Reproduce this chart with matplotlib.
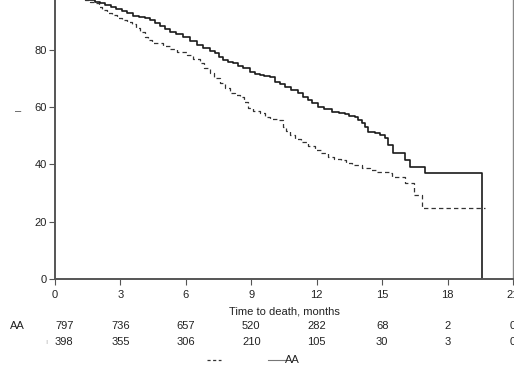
import matplotlib
matplotlib.use("Agg")
import matplotlib.pyplot as plt
from matplotlib.transforms import blended_transform_factory
from matplotlib.lines import Line2D

plt.rcParams['font.family'] = ['Liberation Sans', 'DejaVu Sans']

# Kaplan-Meier style curves (months, survival %)
t_aa = [0, 0.4, 0.8, 1.2, 1.5, 1.83, 2.05, 2.29, 2.55, 2.8, 3.07, 3.3, 3.57, 3.85, 4.12,
        4.35, 4.58, 4.8, 5.05, 5.27, 5.55, 5.87, 6.2, 6.49, 6.8, 7.1, 7.33, 7.5, 7.7, 7.95,
        8.17, 8.4, 8.6, 8.93, 9.15, 9.39, 9.6, 9.85, 10.08, 10.3, 10.54, 10.8, 11.13, 11.35,
        11.59, 11.8, 12.05, 12.35, 12.69, 13.0, 13.28, 13.5, 13.74, 13.9, 14.06, 14.2, 14.34,
        14.66, 14.89, 15.12, 15.25, 15.48, 16.03, 16.26, 16.95, 19.56]
s_aa = [100, 99.4, 98.7, 97.9, 97.3, 96.8, 96.2, 95.6, 94.9, 94.2, 93.5, 92.7, 91.9, 91.4,
        91.0, 90.2, 89.4, 88.4, 87.3, 86.3, 85.6, 84.5, 83.1, 81.6, 80.6, 79.7, 78.8, 77.6,
        76.4, 75.8, 75.3, 74.3, 73.5, 72.1, 71.6, 71.2, 70.8, 70.4, 68.8, 67.9, 67.1, 66.0,
        64.8, 63.6, 62.5, 61.3, 60.1, 59.3, 58.4, 57.9, 57.5, 57.0, 56.6, 55.4, 54.3, 52.9,
        51.4, 50.8, 50.2, 49.1, 46.8, 43.8, 41.5, 39.2, 36.9, 0]

t_other = [0, 0.4, 0.8, 1.1, 1.37, 1.6, 1.83, 2.0, 2.15, 2.4, 2.6, 2.85, 3.07, 3.3, 3.53,
           3.7, 3.89, 4.12, 4.28, 4.43, 4.95, 5.27, 5.6, 6.05, 6.35, 6.64, 6.85, 7.1, 7.3,
           7.56, 7.8, 8.02, 8.25, 8.47, 8.65, 8.84, 9.1, 9.39, 9.62, 9.85, 10.2, 10.44, 10.6,
           10.77, 11.0, 11.3, 11.6, 11.9, 12.2, 12.5, 12.8, 13.1, 13.35, 13.6, 14.06, 14.43,
           14.75, 15.35, 15.44, 16.03, 16.45, 16.81, 19.7]
s_other = [100, 99.2, 98.4, 97.7, 97.3, 96.8, 96.4, 95.0, 93.9, 92.9, 92.1, 91.2, 90.4, 89.7,
           89.0, 87.6, 86.3, 84.5, 83.3, 82.2, 81.2, 80.1, 79.2, 78.2, 76.8, 75.3, 73.6, 71.8,
           70.0, 68.3, 66.5, 64.8, 64.2, 63.6, 61.6, 59.6, 58.7, 57.8, 56.4, 55.8, 55.5, 53.1,
           51.6, 50.2, 49.0, 47.9, 46.4, 45.0, 43.8, 42.7, 42.0, 41.5, 40.6, 39.8, 38.6, 38.0,
           37.4, 36.9, 35.7, 33.4, 29.3, 24.7, 24.7]

x_ticks = [0, 3, 6, 9, 12, 15, 18, 21]
y_ticks = [0, 20, 40, 60, 80, 100]
risk_aa = ['797', '736', '657', '520', '282', '68', '2', '0']
risk_other = ['398', '355', '306', '210', '105', '30', '3', '0']
row_labels = ['AA', '\u0131']
xlabel = 'Time to death, months'
ylabel = '\u2013'
legend_labels = ['', 'AA']

W, H = 514, 368
fig = plt.figure(figsize=(W / 100, H / 100), dpi=100)
left, right = 55 / W, 513 / W
bottom = (H - 279) / H
height = 286.6 / H
ax = fig.add_axes([left, bottom, right - left, height])

ax.plot(t_aa, s_aa, drawstyle='steps-post', color='#1a1a1a', lw=1.2)
ax.plot(t_other, s_other, drawstyle='steps-post', color='#333333', lw=0.9,
        linestyle=(0, (3.5, 2.5)))

ax.set_xlim(0, 21)
ax.set_ylim(0, 100)
ax.set_xticks(x_ticks)
ax.set_yticks(y_ticks)
ax.tick_params(axis='both', direction='out', length=4, width=0.8, colors='#555555',
               labelcolor='#222222', labelsize=8, pad=2)
ax.tick_params(axis='x', pad=4)
for sp in ['left', 'bottom', 'right', 'top']:
    ax.spines[sp].set_color('#555555')
    ax.spines[sp].set_linewidth(1.4)
ax.spines['right'].set_color('#888888')
ax.spines['right'].set_linewidth(1.0)

fig.text(284 / W, 1 - 311 / H, xlabel, ha='center', va='center', fontsize=8, color='#222222')
fig.text(18 / W, 1 - 111 / H, ylabel, ha='center', va='center', fontsize=8, color='#444444')

tr = blended_transform_factory(ax.transData, fig.transFigure)
for row, (vals, ypix) in enumerate([(risk_aa, 326), (risk_other, 342)]):
    for i, (x, v) in enumerate(zip(x_ticks, vals)):
        ax.text(x, 1 - ypix / H, v, transform=tr, ha='left' if i == 0 else 'center',
                va='center', fontsize=8, color='#222222', clip_on=False)
fig.text(17 / W, 1 - 326 / H, row_labels[0], ha='center', va='center', fontsize=8, color='#222222')
fig.text(46 / W, 1 - 342 / H, row_labels[1], ha='center', va='center', fontsize=6, color='#bbbbbb')

# legend
ly = 1 - 360 / H
fig.add_artist(Line2D([207 / W, 221 / W], [ly, ly], transform=fig.transFigure,
                      color='#333333', lw=0.9, linestyle=(0, (2.5, 2))))
fig.add_artist(Line2D([268 / W, 285 / W], [ly, ly], transform=fig.transFigure,
                      color='#777777', lw=0.8))
fig.text(285 / W, ly, legend_labels[1], ha='left', va='center', fontsize=8, color='#222222')

fig.savefig('out.png', dpi=100)
